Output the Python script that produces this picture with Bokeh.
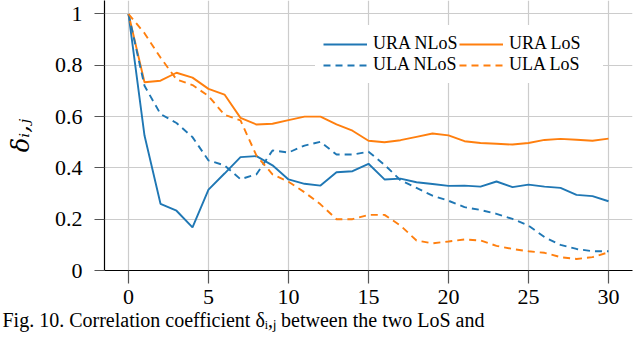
from bokeh.plotting import figure
from bokeh.models import Range1d, Legend, LegendItem, FixedTicker, Title
from bokeh.embed import file_html
from bokeh.resources import INLINE

# ---- data -------------------------------------------------------------
x = list(range(31))
ura_nlos = [1.0, 0.526, 0.26, 0.233, 0.168, 0.315, 0.378, 0.442, 0.446, 0.41,
            0.355, 0.338, 0.331, 0.383, 0.387, 0.416, 0.355, 0.358, 0.344, 0.337,
            0.33, 0.331, 0.327, 0.347, 0.325, 0.335, 0.327, 0.322, 0.295, 0.29, 0.27]
ura_los = [1.0, 0.734, 0.74, 0.771, 0.752, 0.708, 0.686, 0.595, 0.569, 0.572,
           0.586, 0.6, 0.6, 0.57, 0.545, 0.506, 0.5, 0.508, 0.521, 0.534,
           0.527, 0.504, 0.497, 0.494, 0.491, 0.497, 0.509, 0.513, 0.51, 0.506, 0.514]
ula_nlos = [1.0, 0.72, 0.61, 0.575, 0.52, 0.429, 0.41, 0.356, 0.375, 0.468,
            0.46, 0.487, 0.502, 0.452, 0.452, 0.463, 0.412, 0.352, 0.322, 0.292,
            0.272, 0.247, 0.236, 0.221, 0.201, 0.175, 0.13, 0.1, 0.084, 0.075, 0.075]
ula_los = [1.0, 0.925, 0.83, 0.745, 0.723, 0.68, 0.607, 0.585, 0.448, 0.375,
           0.346, 0.305, 0.258, 0.2, 0.2, 0.217, 0.217, 0.175, 0.117, 0.106,
           0.113, 0.121, 0.117, 0.096, 0.084, 0.075, 0.069, 0.052, 0.045, 0.052, 0.071]

labels = ["URA NLoS", "URA LoS", "ULA NLoS", "ULA LoS"]
x_ticks = [0, 5, 10, 15, 20, 25, 30]
y_ticks = [0, 0.2, 0.4, 0.6, 0.8, 1]
y_tick_labels = ["0", "0.2", "0.4", "0.6", "0.8", "1"]
y_label = "δᵢ,ⱼ"
caption = "Fig. 10. Correlation coefficient δᵢ,ⱼ between the two LoS and"

BLUE = "#1f77b4"
ORANGE = "#ff7f0e"
SERIF = "Liberation Serif"

# ---- figure -----------------------------------------------------------
p = figure(width=640, height=340, output_backend="svg", toolbar_location=None,
           x_range=Range1d(-1.5, 31.5), y_range=Range1d(0, 1.0526),
           min_border_left=104, min_border_right=8, min_border_top=0,
           min_border_bottom=70)
p.outline_line_color = None
p.background_fill_color = "white"
p.border_fill_color = "white"

p.grid.grid_line_color = "#cccccc"
p.grid.grid_line_width = 1.2

p.axis.axis_line_color = "black"
p.axis.axis_line_width = 1.2
p.axis.major_tick_line_color = "#555555"
p.axis.major_tick_line_width = 1.2
p.axis.major_tick_in = 0
p.axis.minor_tick_line_color = None
p.axis.major_label_text_font = SERIF
p.axis.major_label_text_font_style = "normal"
p.axis.major_label_text_font_size = "22px"
p.axis.major_label_text_color = "black"

xa = p.xaxis[0]
ya = p.yaxis[0]
xa.ticker = FixedTicker(ticks=x_ticks)
ya.ticker = FixedTicker(ticks=y_ticks)
ya.major_label_overrides = {t: l for t, l in zip(y_ticks, y_tick_labels)}
xa.major_tick_out = 13
ya.major_tick_out = 10
xa.major_label_standoff = 6
ya.major_label_standoff = 12

ya.axis_label = y_label
ya.axis_label_text_font = "DejaVu Serif"
ya.axis_label_text_font_style = "italic"
ya.axis_label_text_font_size = "24px"
ya.axis_label_text_color = "black"
ya.axis_label_standoff = 17

LW = 1.9
r1 = p.line(x, ura_nlos, line_color=BLUE, line_width=LW)
r2 = p.line(x, ura_los, line_color=ORANGE, line_width=LW)
r3 = p.line(x, ula_nlos, line_color=BLUE, line_width=LW, line_dash="7 5")
r4 = p.line(x, ula_los, line_color=ORANGE, line_width=LW, line_dash="7 5")

legend = Legend(items=[LegendItem(label=l, renderers=[r]) for l, r in zip(labels, [r1, r2, r3, r4])],
                location=(211, 187), orientation="horizontal", ncols=2,
                padding=8, spacing=0, margin=0,
                glyph_width=44, glyph_height=20, label_height=20,
                label_width=86, label_standoff=6,
                label_text_font=SERIF, label_text_font_size="18px",
                label_text_color="black",
                border_line_alpha=0, background_fill_color="white",
                background_fill_alpha=1.0)
p.add_layout(legend)

cap = Title(text=caption, align="left", offset=-102, standoff=0,
            text_font=SERIF, text_font_size="20px", text_font_style="normal",
            text_color="black")
p.add_layout(cap, "below")

open("out.html", "w").write(file_html(p, INLINE))
